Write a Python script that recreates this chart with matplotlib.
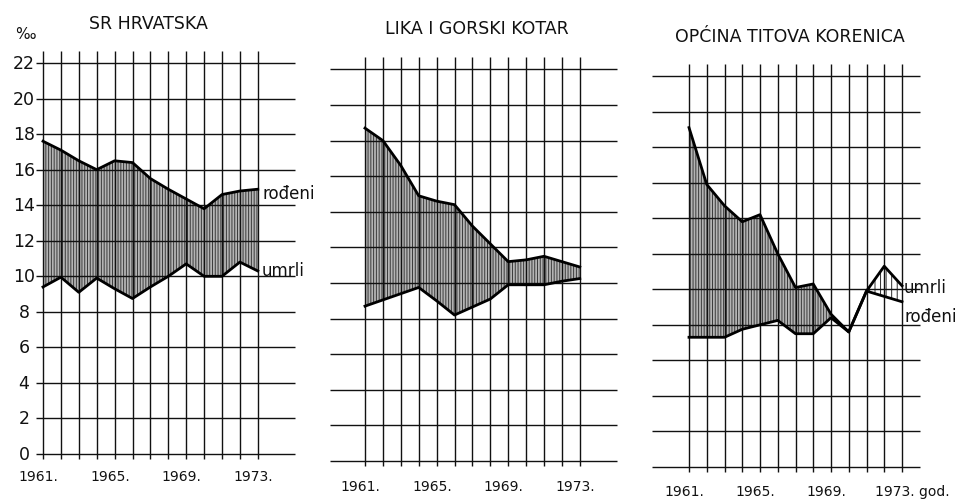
import matplotlib
matplotlib.use('Agg')
import matplotlib.pyplot as plt
import numpy as np

# ── Data (‰) ─────────────────────────────────────────────────────────────────
years = np.arange(1961, 1974)
year_labels = [1961, 1965, 1969, 1973]
y_ticks = list(range(0, 23, 2))

titles = ['SR HRVATSKA', 'LIKA I GORSKI KOTAR', 'OPĆINA TITOVA KORENICA']

hr_rodeni = [17.6, 17.1, 16.5, 16.0, 16.5, 16.4, 15.5, 14.9, 14.35, 13.8, 14.6, 14.8, 14.9]
hr_umrli  = [9.4, 9.95, 9.1, 9.9, 9.3, 8.75, 9.4, 10.0, 10.7, 10.0, 10.0, 10.8, 10.3]

lgk_rodeni = [18.7, 18.0, 16.6, 14.9, 14.6, 14.4, 13.2, 12.2, 11.2, 11.3, 11.5, 11.2, 10.9]
lgk_umrli  = [8.7, 9.05, 9.4, 9.75, 9.0, 8.2, 8.65, 9.1, 9.9, 9.9, 9.9, 10.1, 10.25]

tk_rodeni = [19.1, 15.9, 14.7, 13.8, 14.2, 12.0, 10.1, 10.3, 8.6, 7.6, 9.9, 9.6, 9.3]
tk_umrli  = [7.3, 7.3, 7.3, 7.75, 8.0, 8.25, 7.5, 7.5, 8.4, 7.6, 9.9, 11.3, 10.2]

series = [(hr_rodeni, hr_umrli), (lgk_rodeni, lgk_umrli), (tk_rodeni, tk_umrli)]

# ── Layout (pixel geometry of each scanned panel) ───────────────────────────
W, H = 955, 502
# x0,y0: pixel of (1961, 0); sx,sy: px per year / per unit; box left/right
LAYOUT = [
    dict(x0=43,  y0=455, sx=17.9,  sy=17.77, left=0,   right=325, gx=(1960.6, 1975.1),
         title=(148, 24), ylab_y=-1.25),
    dict(x0=365, y0=462, sx=17.9,  sy=17.8,  left=325, right=640, gx=(1959.05, 1975.1),
         title=(477, 29), ylab_y=-1.4),
    dict(x0=689, y0=468, sx=17.75, sy=17.77, left=640, right=955, gx=(1958.9, 1974.0),
         title=(790, 37), ylab_y=-1.35),
]

plt.rcParams['hatch.linewidth'] = 0.7
INK = '#111111'

fig = plt.figure(figsize=(W / 100, H / 100), dpi=100)
fig.patch.set_facecolor('white')

axes = []
for i, L in enumerate(LAYOUT):
    ax = fig.add_axes([L['left'] / W, 0, (L['right'] - L['left']) / W, 1])
    ax.set_xlim(1961 + (L['left'] - L['x0']) / L['sx'], 1961 + (L['right'] - L['x0']) / L['sx'])
    ax.set_ylim((L['y0'] - H) / L['sy'], L['y0'] / L['sy'])
    ax.axis('off')
    axes.append(ax)

    rod, umr = np.array(series[i][0]), np.array(series[i][1])

    # shaded gap between births and deaths
    ax.fill_between(years, umr, rod, where=rod >= umr, interpolate=True,
                    facecolor='#b4b4b4', edgecolor='#3a3a3a', hatch='||||||',
                    linewidth=0, zorder=1)
    ax.fill_between(years, rod, umr, where=umr > rod, interpolate=True,
                    facecolor='white', edgecolor='#2a2a2a', hatch='|||',
                    linewidth=0, zorder=1)

    # hand-drawn style grid
    ax.hlines(y_ticks, L['gx'][0], L['gx'][1], color=INK, lw=1.0, zorder=2)
    ax.vlines(years, -0.3, 22.7, color=INK, lw=1.0, zorder=2)

    ax.plot(years, rod, color='black', lw=2.0, zorder=3)
    ax.plot(years, umr, color='black', lw=2.0, zorder=3)

    for yr in year_labels:
        if i == 2 and yr == 1973:
            ax.text(1971.48, L['ylab_y'], '1973. god.', ha='left', va='center',
                    fontsize=10, color=INK)
            continue
        ax.text(yr - 0.25, L['ylab_y'], f'{yr}.', ha='center', va='center',
                fontsize=10, color=INK)

    px, py = L['title']
    fig.text(px / W, 1 - py / H, titles[i], ha='center', va='center',
             fontsize=12.5, color=INK)

# y-axis labels only on the first panel
ax0 = axes[0]
for v in y_ticks:
    ax0.text(1959.94, v, str(v), ha='center', va='center', fontsize=12.5, color=INK)
fig.text(25 / W, 1 - 35 / H, '‰', ha='center', va='center', fontsize=11, color=INK)

# series labels
fig.text(262 / W, 1 - 194 / H, 'rođeni', ha='left', va='center', fontsize=12, color=INK)
fig.text(262 / W, 1 - 271 / H, 'umrli', ha='left', va='center', fontsize=12, color=INK)
fig.text(904 / W, 1 - 288 / H, 'umrli', ha='left', va='center', fontsize=12, color=INK)
fig.text(904 / W, 1 - 317 / H, 'rođeni', ha='left', va='center', fontsize=12, color=INK)

plt.savefig('out.png', dpi=100)
plt.close()
